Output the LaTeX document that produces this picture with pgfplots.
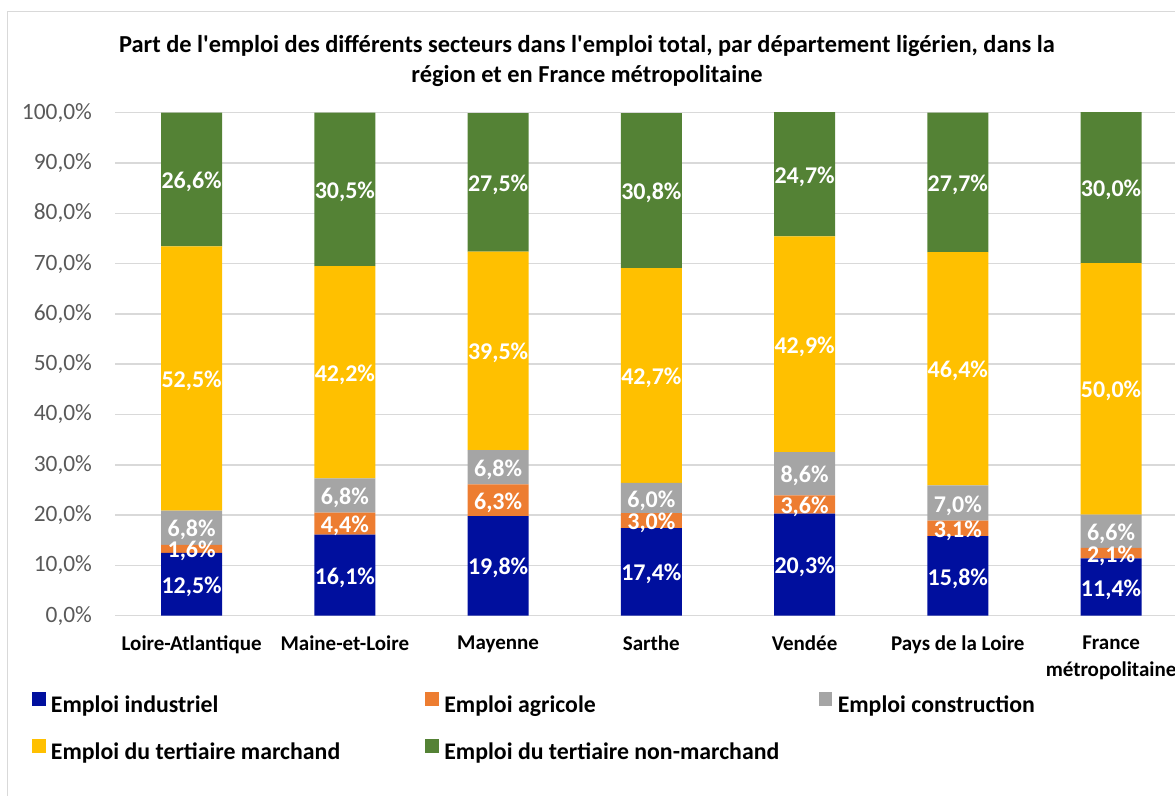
\documentclass[border=0pt]{standalone}
\usepackage{pgfplots}
\pgfplotsset{compat=1.18}
\usepackage{fontspec}
\setmainfont{Carlito}

\definecolor{cind}{RGB}{0,15,158}
\definecolor{cagr}{RGB}{237,125,49}
\definecolor{ccons}{RGB}{165,165,165}
\definecolor{cmarch}{RGB}{255,192,0}
\definecolor{cnonm}{RGB}{84,130,53}
\definecolor{gridgray}{RGB}{217,217,217}
\definecolor{ticktext}{RGB}{89,89,89}

% 1 px of the reference = 0.5pt
\begin{document}
\begin{tikzpicture}
\useasboundingbox (0pt,0pt) rectangle (587.5pt,398pt);
\clip (0pt,0pt) rectangle (587.5pt,398pt);
% outer chart frame
\draw[gridgray, line width=0.75pt] (3.75pt,-20pt) rectangle (620pt,392.25pt);
% title
\node[align=center, font=\bfseries\fontsize{12.2}{14.6}\selectfont] at (293.5pt,367.5pt)
  {Part de l\textquotesingle emploi des différents secteurs dans l\textquotesingle emploi total, par département ligérien, dans la\\
   région et en France métropolitaine};

\begin{axis}[
  at={(57.5pt,90.15pt)}, anchor=south west,
  scale only axis, width=536.35pt, height=251.5pt,
  ybar stacked, bar width=30.5pt,
  xmin=-0.5, xmax=6.5, ymin=0, ymax=100,
  clip=false,
  xtick={0,...,6},
  xticklabels={Loire-Atlantique, Maine-et-Loire, Mayenne, Sarthe, Vendée,
    Pays de la Loire, {France\\[1pt]métropolitaine}},
  xticklabel style={font=\bfseries\fontsize{10.5}{12.5}\selectfont, align=center, yshift=-6.5pt},
  ytick={0,10,...,100},
  yticklabel={\pgfmathprintnumber[fixed,fixed zerofill,precision=1,use comma,assume math mode=true]{\tick}\%},
  yticklabel style={font=\fontsize{11.7}{14}\selectfont, text=ticktext, xshift=-8pt},
  major tick length=0pt,
  axis line style={draw=none},
  ymajorgrids, grid style={draw=gridgray, line width=0.75pt},
  point meta=rawy,
  nodes near coords={\pgfmathprintnumber[fixed,fixed zerofill,precision=1,use comma,assume math mode=true]{\pgfplotspointmeta}\%},
  nodes near coords style={font=\bfseries\fontsize{12}{14}\selectfont, text=white, anchor=center, yshift=-1.2pt},
  legend columns=3,
  legend style={draw=none, fill=none, inner sep=0pt, outer sep=0pt,
    at={(-0.0774,-0.152)}, anchor=north west, row sep=9.6pt,
    font=\bfseries\fontsize{11.9}{14}\selectfont,
    /tikz/every odd column/.append style={column sep=0.65pt}},
  legend cell align=left,
  legend image code/.code={\fill[#1] (0pt,0pt) rectangle (6.85pt,6.85pt);},
]
\addplot[fill=cind, draw=none] coordinates {(0,12.5) (1,16.1) (2,19.8) (3,17.4) (4,20.3) (5,15.8) (6,11.4)};
\addlegendentry{\makebox[185.2pt][l]{Emploi industriel}}
\addplot[fill=cagr, draw=none] coordinates {(0,1.6) (1,4.4) (2,6.3) (3,3.0) (4,3.6) (5,3.1) (6,2.1)};
\addlegendentry{\makebox[185.2pt][l]{Emploi agricole}}
\addplot[fill=ccons, draw=none] coordinates {(0,6.8) (1,6.8) (2,6.8) (3,6.0) (4,8.6) (5,7.0) (6,6.6)};
\addlegendentry{\makebox[185.2pt][l]{Emploi construction}}
\addplot[fill=cmarch, draw=none] coordinates {(0,52.5) (1,42.2) (2,39.5) (3,42.7) (4,42.9) (5,46.4) (6,50.0)};
\addlegendentry{\makebox[185.2pt][l]{Emploi du tertiaire marchand}}
\addplot[fill=cnonm, draw=none] coordinates {(0,26.6) (1,30.5) (2,27.5) (3,30.8) (4,24.7) (5,27.7) (6,30.0)};
\addlegendentry{\makebox[185.2pt][l]{Emploi du tertiaire non-marchand}}
\end{axis}
\end{tikzpicture}
\end{document}
